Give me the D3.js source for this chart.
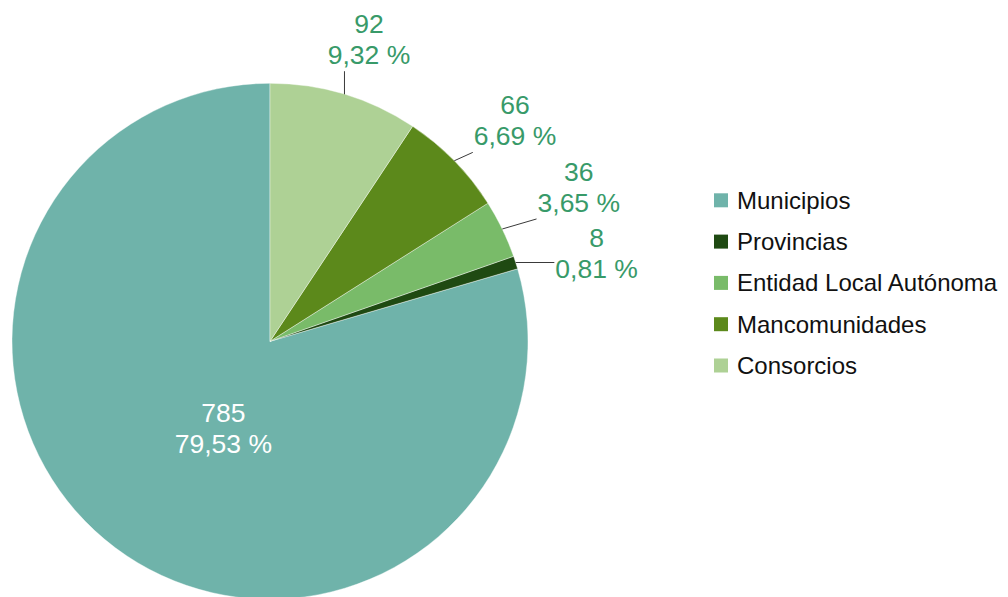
<!DOCTYPE html>
<html>
<head>
<meta charset="utf-8">
<script src="https://cdn.jsdelivr.net/npm/d3@7"></script>
<style>
  html, body { margin: 0; padding: 0; background: #ffffff; }
  svg { display: block; font-family: "Liberation Sans", Arial, sans-serif; }
</style>
</head>
<body>
<svg id="chart" width="1008" height="597"></svg>
<script>
// ---- Data ----
const categories = ["Municipios", "Provincias", "Entidad Local Autónoma", "Mancomunidades", "Consorcios"];
const values = [785, 8, 36, 66, 92];
const colors = ["#6fb3aa", "#1f4a12", "#79bb69", "#5c891b", "#aed195"];

// ---- Layout ----
const W = 1008, H = 597;
const cx = 270, cy = 341.3, r = 258;
const labelColor = "#389a69";
const labelFont = 26.5, lineGap = 31;

const svg = d3.select("#chart");
const total = d3.sum(values);
const data = categories.map((c, i) => ({ name: c, value: values[i], color: colors[i], pct: values[i] / total * 100 }));

const fmtPct = p => p.toFixed(2).replace(".", ",") + " %";

const pie = d3.pie().sort(null).value(d => d.value).startAngle(0).endAngle(-2 * Math.PI);
const arcs = pie(data);
const arc = d3.arc().innerRadius(0).outerRadius(r);

const g = svg.append("g").attr("transform", `translate(${cx},${cy})`);

g.selectAll("path.slice")
  .data(arcs)
  .enter().append("path")
  .attr("class", "slice")
  .attr("d", arc)
  .attr("fill", d => d.data.color)
  .attr("stroke", "#ffffff")
  .attr("stroke-width", 0.4);

const mid = d => (d.startAngle + d.endAngle) / 2;
const pt = (a, R) => [R * Math.sin(a), -R * Math.cos(a)];

// ---- Inside label for the large slice ----
const big = arcs[0];
const bp = pt(mid(big) - 0.15, r * 0.382);
const inner = g.append("text")
  .attr("text-anchor", "middle")
  .attr("fill", "#ffffff")
  .attr("font-size", labelFont);
inner.append("tspan").attr("x", bp[0]).attr("y", bp[1] - 6.5).text(big.data.value);
inner.append("tspan").attr("x", bp[0]).attr("y", bp[1] - 6.5 + lineGap).text(fmtPct(big.data.pct));

// ---- Outside labels with simple vertical relaxation ----
const Rx = 343, Ry = 315, minGap = 66;
const outs = arcs.slice(1).map(d => {
  const a = mid(d);
  return { d, a, x: Rx * Math.sin(a), y: -Ry * Math.cos(a) };
}).sort((p, q) => p.y - q.y);

for (let it = 0; it < 50; it++) {
  for (let i = 1; i < outs.length; i++) {
    const gap = outs[i].y - outs[i - 1].y;
    if (gap < minGap) {
      const push = (minGap - gap);
      outs[i].y += push / 3;
      outs[i - 1].y -= push * 2 / 3;
    }
  }
}

outs.forEach(o => {
  const t = g.append("text")
    .attr("text-anchor", "middle")
    .attr("fill", labelColor)
    .attr("font-size", labelFont);
  t.append("tspan").attr("x", o.x).attr("y", o.y - 6.5).text(o.d.data.value);
  t.append("tspan").attr("x", o.x).attr("y", o.y - 6.5 + lineGap).text(fmtPct(o.d.data.pct));
  const bb = t.node().getBBox();
  const s = pt(o.a, r);
  const ex = Math.max(bb.x - 1, Math.min(s[0], bb.x + bb.width + 1));
  const ey = Math.max(bb.y - 1, Math.min(s[1], bb.y + bb.height + 1));
  g.append("line")
    .attr("x1", s[0]).attr("y1", s[1])
    .attr("x2", ex).attr("y2", ey)
    .attr("stroke", "#3a3a3a")
    .attr("stroke-width", 1);
});

// ---- Legend ----
const legend = svg.append("g").attr("transform", "translate(714,193.3)");
const step = 41.3;
const items = legend.selectAll("g.item")
  .data(data)
  .enter().append("g")
  .attr("class", "item")
  .attr("transform", (d, i) => `translate(0,${i * step})`);
items.append("rect")
  .attr("width", 14).attr("height", 14)
  .attr("fill", d => d.color);
items.append("text")
  .attr("x", 23).attr("y", 15.5)
  .attr("font-size", 24)
  .attr("fill", "#111111")
  .text(d => d.name);
</script>
</body>
</html>
